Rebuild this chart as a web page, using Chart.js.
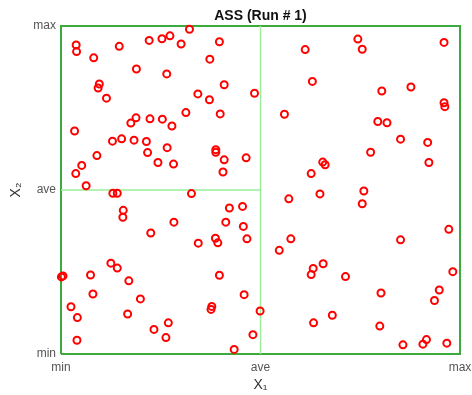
<!DOCTYPE html>
<html>
<head>
<meta charset="utf-8">
<script src="https://cdn.jsdelivr.net/npm/chart.js@4"></script>
<style>
  html, body { margin: 0; padding: 0; background: #fff; }
  #wrap { width: 472px; height: 395px; }
</style>
</head>
<body>
<div id="wrap"><canvas id="c" width="472" height="395"></canvas></div>
<script>
// axis ticks (normalised: min = 0, ave = 0.5, max = 1)
const tickValues = [0, 0.5, 1];
const tickLabels = ['min', 'ave', 'max'];

// sample points
const xs = [
  0.038, 0.039, 0.146, 0.221, 0.253, 0.273, 0.322, 0.301, 0.397, 0.082,
  0.373, 0.189, 0.265, 0.096, 0.093, 0.114, 0.409, 0.343, 0.372, 0.485,
  0.034, 0.313, 0.399, 0.188, 0.175, 0.223, 0.254, 0.278, 0.129, 0.152,
  0.183, 0.214, 0.266, 0.217, 0.388, 0.388, 0.409, 0.406, 0.464, 0.090,
  0.243, 0.282, 0.052, 0.037, 0.063, 0.130, 0.141, 0.327,
  0.612, 0.744, 0.755, 0.960, 0.630, 0.804, 0.877, 0.960, 0.962, 0.560,
  0.794, 0.817, 0.851, 0.919, 0.776, 0.656, 0.662, 0.922, 0.627, 0.649,
  0.759, 0.571,
  0.755, 0.972, 0.851, 0.576, 0.547, 0.657, 0.632, 0.627, 0.713, 0.982,
  0.948, 0.936, 0.802, 0.680, 0.633, 0.799, 0.499, 0.481, 0.857, 0.907,
  0.916, 0.967,
  0.156, 0.155, 0.283, 0.225, 0.344, 0.387, 0.393, 0.413, 0.422, 0.455,
  0.457, 0.466, 0.125, 0.141, 0.001, 0.005, 0.074, 0.170, 0.397, 0.080,
  0.199, 0.459, 0.025, 0.041, 0.167, 0.378, 0.376, 0.269, 0.233, 0.263,
  0.040, 0.434
];
const ys = [
  0.942, 0.922, 0.938, 0.956, 0.961, 0.970, 0.990, 0.945, 0.952, 0.903,
  0.899, 0.869, 0.854, 0.823, 0.811, 0.780, 0.821, 0.793, 0.775, 0.795,
  0.680, 0.736, 0.732, 0.720, 0.704, 0.717, 0.716, 0.695, 0.649, 0.656,
  0.652, 0.648, 0.629, 0.614, 0.623, 0.615, 0.592, 0.555, 0.598, 0.605,
  0.584, 0.579, 0.575, 0.550, 0.513, 0.490, 0.490, 0.489,
  0.928, 0.960, 0.929, 0.950, 0.831, 0.802, 0.814, 0.766, 0.754, 0.731,
  0.709, 0.705, 0.655, 0.645, 0.615, 0.585, 0.577, 0.584, 0.550, 0.488,
  0.497, 0.473,
  0.458, 0.380, 0.348, 0.351, 0.316, 0.275, 0.261, 0.242, 0.236, 0.251,
  0.195, 0.163, 0.186, 0.118, 0.095, 0.085, 0.131, 0.059, 0.028, 0.030,
  0.044, 0.033,
  0.438, 0.417, 0.402, 0.369, 0.338, 0.353, 0.339, 0.402, 0.445, 0.450,
  0.389, 0.351, 0.277, 0.262, 0.235, 0.238, 0.241, 0.223, 0.240, 0.183,
  0.168, 0.181, 0.144, 0.111, 0.122, 0.145, 0.136, 0.095, 0.075, 0.050,
  0.042, 0.014
];

// frame and partition lines
const boxX = [0, 1, 1, 0, 0];
const boxY = [0, 0, 1, 1, 0];
const vSplitX = [0.5, 0.5];
const vSplitY = [0, 1];
const hSplitX = [0, 0.5];
const hSplitY = [0.5, 0.5];

const pts = (a, b) => a.map((v, i) => ({ x: v, y: b[i] }));

const lineSet = (data, color, width) => ({
  data: data,
  showLine: true,
  borderColor: color,
  borderWidth: width,
  pointRadius: 0,
  fill: false,
  clip: 4,
  order: 2
});

const tickFont = { family: 'Liberation Sans, Arial', size: 12 };

new Chart(document.getElementById('c'), {
  type: 'scatter',
  data: {
    datasets: [
      {
        data: pts(xs, ys),
        pointStyle: 'circle',
        pointRadius: 3.5,
        pointBorderWidth: 2,
        pointBorderColor: '#ff0000',
        pointBackgroundColor: 'rgba(0,0,0,0)',
        clip: 6,
        order: 0
      },
      lineSet(pts(vSplitX, vSplitY), '#99ee99', 1.4),
      lineSet(pts(hSplitX, hSplitY), '#99ee99', 1.4),
      lineSet(pts(boxX, boxY), '#3caa3c', 2)
    ]
  },
  options: {
    responsive: false,
    animation: false,
    layout: { padding: { left: 0, right: 12, top: 0, bottom: 0 } },
    plugins: {
      legend: { display: false },
      tooltip: { enabled: false },
      title: {
        display: true,
        text: 'ASS (Run # 1)',
        fullSize: false,
        color: '#111',
        font: { family: 'Liberation Sans, Arial', size: 14, weight: 'bold', lineHeight: 1.2 },
        padding: { top: 8, bottom: 1.2 }
      }
    },
    scales: {
      x: {
        type: 'linear',
        min: 0,
        max: 1,
        grid: { display: false, drawTicks: false },
        border: { display: false },
        afterBuildTicks: s => { s.ticks = tickValues.map(v => ({ value: v })); },
        afterFit: s => { s.height = 41; s.paddingLeft = 0; s.paddingRight = 0; },
        ticks: {
          padding: 6,
          color: '#555',
          font: tickFont,
          callback: v => tickLabels[tickValues.indexOf(v)]
        },
        title: {
          display: true,
          text: 'X\u2081',
          color: '#333',
          font: { family: 'Liberation Sans, Arial', size: 14 },
          padding: { top: 0, bottom: 1 }
        }
      },
      y: {
        type: 'linear',
        min: 0,
        max: 1,
        grid: { display: false, drawTicks: false },
        border: { display: false },
        afterBuildTicks: s => { s.ticks = tickValues.map(v => ({ value: v })); },
        afterFit: s => { s.width = 61; s.paddingTop = 0; s.paddingBottom = 0; },
        ticks: {
          padding: 5,
          color: '#555',
          font: tickFont,
          callback: v => tickLabels[tickValues.indexOf(v)]
        },
        title: {
          display: true,
          text: 'X\u2082',
          color: '#333',
          font: { family: 'Liberation Sans, Arial', size: 14 },
          padding: { top: 8, bottom: 0 }
        }
      }
    }
  }
});
</script>
</body>
</html>
